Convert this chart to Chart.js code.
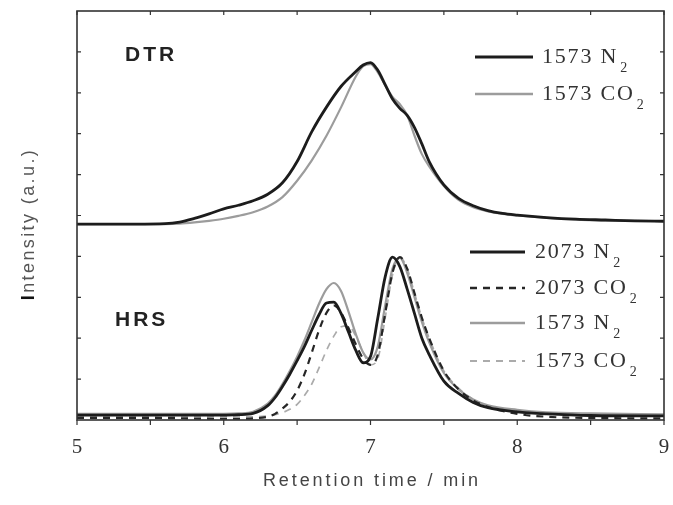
<!DOCTYPE html>
<html>
<head>
<meta charset="utf-8">
<script src="https://cdn.jsdelivr.net/npm/chart.js@4.4.1/dist/chart.umd.min.js"></script>
<style>
  body { margin: 0; background: #fff; }
  #wrap { width: 673px; height: 505px; }
</style>
</head>
<body>
<div id="wrap"><canvas id="myChart" width="673" height="505"></canvas></div>
<script>
// DTR panel (upper trace, offset baseline)
const dtrTime = [5.0, 5.2, 5.4, 5.6, 5.7, 5.8, 5.9, 6.0, 6.1, 6.2, 6.3, 6.4, 6.5, 6.6, 6.7, 6.8, 6.9, 6.95, 7.0, 7.05, 7.1, 7.15, 7.2, 7.25, 7.3, 7.35, 7.4, 7.5, 7.6, 7.7, 7.8, 7.9, 8.0, 8.2, 8.4, 8.6, 8.8, 9.0]
const dtrN2 = [4.79, 4.79, 4.79, 4.80, 4.84, 4.93, 5.04, 5.16, 5.25, 5.36, 5.52, 5.80, 6.32, 7.05, 7.65, 8.16, 8.52, 8.68, 8.74, 8.55, 8.20, 7.85, 7.62, 7.45, 7.15, 6.75, 6.32, 5.75, 5.42, 5.24, 5.12, 5.05, 5.01, 4.95, 4.91, 4.89, 4.87, 4.86]
const dtrCO2 = [4.79, 4.79, 4.79, 4.79, 4.80, 4.83, 4.87, 4.92, 4.99, 5.08, 5.22, 5.45, 5.85, 6.35, 6.95, 7.65, 8.40, 8.65, 8.70, 8.50, 8.18, 7.90, 7.72, 7.45, 6.95, 6.50, 6.20, 5.72, 5.38, 5.20, 5.10, 5.04, 5.00, 4.94, 4.90, 4.88, 4.87, 4.86]

// HRS panel (lower trace)
const hrsTime = [5.0, 5.5, 6.0, 6.1, 6.2, 6.3, 6.35, 6.4, 6.45, 6.5, 6.55, 6.6, 6.65, 6.7, 6.75, 6.8, 6.85, 6.9, 6.95, 7.0, 7.05, 7.1, 7.15, 7.2, 7.25, 7.3, 7.35, 7.4, 7.5, 7.6, 7.7, 7.8, 8.0, 8.2, 8.5, 9.0]
const hrs2073N2 = [0.12, 0.12, 0.12, 0.13, 0.16, 0.35, 0.55, 0.82, 1.12, 1.45, 1.80, 2.20, 2.58, 2.86, 2.88, 2.60, 2.15, 1.70, 1.40, 1.55, 2.50, 3.50, 3.98, 3.75, 3.20, 2.60, 2.00, 1.60, 0.95, 0.65, 0.43, 0.30, 0.20, 0.15, 0.11, 0.10]
const hrs2073CO2 = [0.05, 0.05, 0.03, 0.03, 0.04, 0.08, 0.15, 0.28, 0.45, 0.72, 1.12, 1.65, 2.20, 2.62, 2.80, 2.62, 2.25, 1.85, 1.50, 1.35, 1.60, 2.60, 3.60, 3.98, 3.70, 3.10, 2.50, 2.00, 1.20, 0.75, 0.48, 0.32, 0.15, 0.08, 0.05, 0.04]
const hrs1573N2 = [0.15, 0.15, 0.15, 0.16, 0.20, 0.40, 0.60, 0.88, 1.20, 1.55, 1.95, 2.40, 2.85, 3.20, 3.35, 3.15, 2.65, 2.10, 1.65, 1.48, 1.80, 2.80, 3.70, 3.97, 3.60, 3.00, 2.40, 1.90, 1.15, 0.75, 0.50, 0.36, 0.25, 0.19, 0.16, 0.14]
const hrs1573CO2 = [0.10, 0.10, 0.08, 0.08, 0.08, 0.10, 0.13, 0.18, 0.26, 0.38, 0.60, 0.88, 1.28, 1.70, 2.05, 2.28, 2.30, 2.05, 1.65, 1.35, 1.50, 2.50, 3.55, 3.98, 3.70, 3.10, 2.50, 2.00, 1.20, 0.78, 0.50, 0.35, 0.22, 0.16, 0.12, 0.10]

const xTicks = [5, 6, 7, 8, 9]
// name + subscript pairs for legend
const dtrNames = [['1573 N', '2'], ['1573 CO', '2']]
const hrsNames = [['2073 N', '2'], ['2073 CO', '2'], ['1573 N', '2'], ['1573 CO', '2']]

const BLACK = '#1c1c1c'
const GRAY = '#9c9c9c'
const LGRAY = '#ababab'

function pts(xs, ys) {
    return xs.map((x, i) => ({ x: x, y: ys[i] }))
}

function makeSet(name, xs, ys, color, width, dash) {
    return {
        label: name[0] + name[1],
        name: name,
        data: pts(xs, ys),
        borderColor: color,
        borderWidth: width,
        borderDash: dash,
        pointRadius: 0,
        fill: false,
        cubicInterpolationMode: 'monotone'
    }
}

// first dataset is drawn on top
const dtrSets = [
    makeSet(dtrNames[0], dtrTime, dtrN2, BLACK, 2.8, []),
    makeSet(dtrNames[1], dtrTime, dtrCO2, GRAY, 2.2, [])
]
const hrsSets = [
    makeSet(hrsNames[0], hrsTime, hrs2073N2, BLACK, 2.8, []),
    makeSet(hrsNames[1], hrsTime, hrs2073CO2, '#262626', 2.2, [7, 6]),
    makeSet(hrsNames[2], hrsTime, hrs1573N2, GRAY, 2.2, []),
    makeSet(hrsNames[3], hrsTime, hrs1573CO2, LGRAY, 1.7, [7, 6])
]

function drawLegend(ctx, sets, x0, x1, tx, rows) {
    sets.forEach((ds, i) => {
        const y = rows[i]
        ctx.save()
        ctx.strokeStyle = ds.borderColor
        ctx.lineWidth = ds.borderWidth + 0.4
        ctx.setLineDash(ds.borderDash)
        ctx.beginPath()
        ctx.moveTo(x0, y)
        ctx.lineTo(x1, y)
        ctx.stroke()
        ctx.restore()

        ctx.save()
        ctx.fillStyle = '#333'
        ctx.textBaseline = 'middle'
        ctx.textAlign = 'left'
        ctx.font = '22px "Liberation Serif"'
        ctx.letterSpacing = '1.8px'
        ctx.fillText(ds.name[0], tx, y)
        const w = ctx.measureText(ds.name[0]).width
        ctx.font = '14px "Liberation Serif"'
        ctx.fillText(ds.name[1], tx + w + 2, y + 11)
        ctx.restore()
    })
}

const decorPlugin = {
    id: 'decor',
    afterDraw(chart) {
        const ctx = chart.ctx
        const xs = chart.scales.x
        const ys = chart.scales.y
        const a = chart.chartArea

        // frame
        ctx.save()
        ctx.strokeStyle = '#333'
        ctx.lineWidth = 1.6
        ctx.strokeRect(a.left, a.top, a.right - a.left, a.bottom - a.top)

        // ticks
        ctx.lineWidth = 1.2
        ctx.beginPath()
        for (let v = 5; v <= 9.001; v += 0.5) {
            const px = xs.getPixelForValue(v)
            ctx.moveTo(px, a.bottom)
            ctx.lineTo(px, a.bottom + 5)
            ctx.moveTo(px, a.top)
            ctx.lineTo(px, a.top + 4)
        }
        for (let v = 1; v < 10; v++) {
            const py = ys.getPixelForValue(v)
            ctx.moveTo(a.left, py)
            ctx.lineTo(a.left + 4, py)
            ctx.moveTo(a.right, py)
            ctx.lineTo(a.right - 4, py)
        }
        ctx.stroke()
        ctx.restore()

        // panel labels
        ctx.save()
        ctx.fillStyle = '#222'
        ctx.font = 'bold 21px "Liberation Sans"'
        ctx.letterSpacing = '3px'
        ctx.textBaseline = 'middle'
        ctx.fillText('DTR', 125, 55)
        ctx.fillText('HRS', 115, 320)
        ctx.restore()

        // legends
        drawLegend(ctx, dtrSets, 475, 533, 542, [57, 94])
        drawLegend(ctx, hrsSets, 470, 525, 535, [252, 288, 323, 361])

        // x title
        ctx.save()
        ctx.fillStyle = '#444'
        ctx.font = '18px "Liberation Sans"'
        ctx.letterSpacing = '2.9px'
        ctx.textAlign = 'center'
        ctx.textBaseline = 'middle'
        ctx.fillText('Retention time / min', 372, 481)
        ctx.restore()

        // y title, bold first letter
        ctx.save()
        ctx.translate(29, 224)
        ctx.rotate(-Math.PI / 2)
        ctx.textBaseline = 'middle'
        ctx.textAlign = 'left'
        ctx.letterSpacing = '2.4px'
        ctx.font = 'bold 18px "Liberation Sans"'
        const wI = ctx.measureText('I').width
        ctx.font = '18px "Liberation Sans"'
        const wRest = ctx.measureText('ntensity (a.u.)').width
        const start = -(wI + wRest) / 2
        ctx.fillStyle = '#111'
        ctx.font = 'bold 18px "Liberation Sans"'
        ctx.fillText('I', start, 0)
        ctx.fillStyle = '#555'
        ctx.font = '18px "Liberation Sans"'
        ctx.fillText('ntensity (a.u.)', start + wI, 0)
        ctx.restore()
    }
}

const ctx = document.getElementById('myChart').getContext('2d')

let myChart = new Chart(ctx, {
    type: 'line',
    data: { datasets: dtrSets.concat(hrsSets) },
    options: {
        responsive: false,
        animation: false,
        layout: { padding: { top: 11, right: 9, left: 0, bottom: 0 } },
        plugins: {
            legend: { display: false },
            tooltip: { enabled: false }
        },
        scales: {
            x: {
                type: 'linear',
                min: 5,
                max: 9,
                afterBuildTicks: (axis) => { axis.ticks = xTicks.map(v => ({ value: v })) },
                afterFit: (axis) => {
                    axis.height = 85
                    axis.paddingLeft = 0
                    axis.paddingRight = 0
                },
                grid: { display: false },
                border: { display: false },
                ticks: {
                    color: '#333',
                    padding: 7,
                    font: { family: '"Liberation Serif"', size: 21 }
                }
            },
            y: {
                min: 0,
                max: 10,
                afterFit: (axis) => { axis.width = 77 },
                grid: { display: false },
                border: { display: false },
                ticks: { display: false }
            }
        }
    },
    plugins: [decorPlugin]
})
</script>
</body>
</html>
